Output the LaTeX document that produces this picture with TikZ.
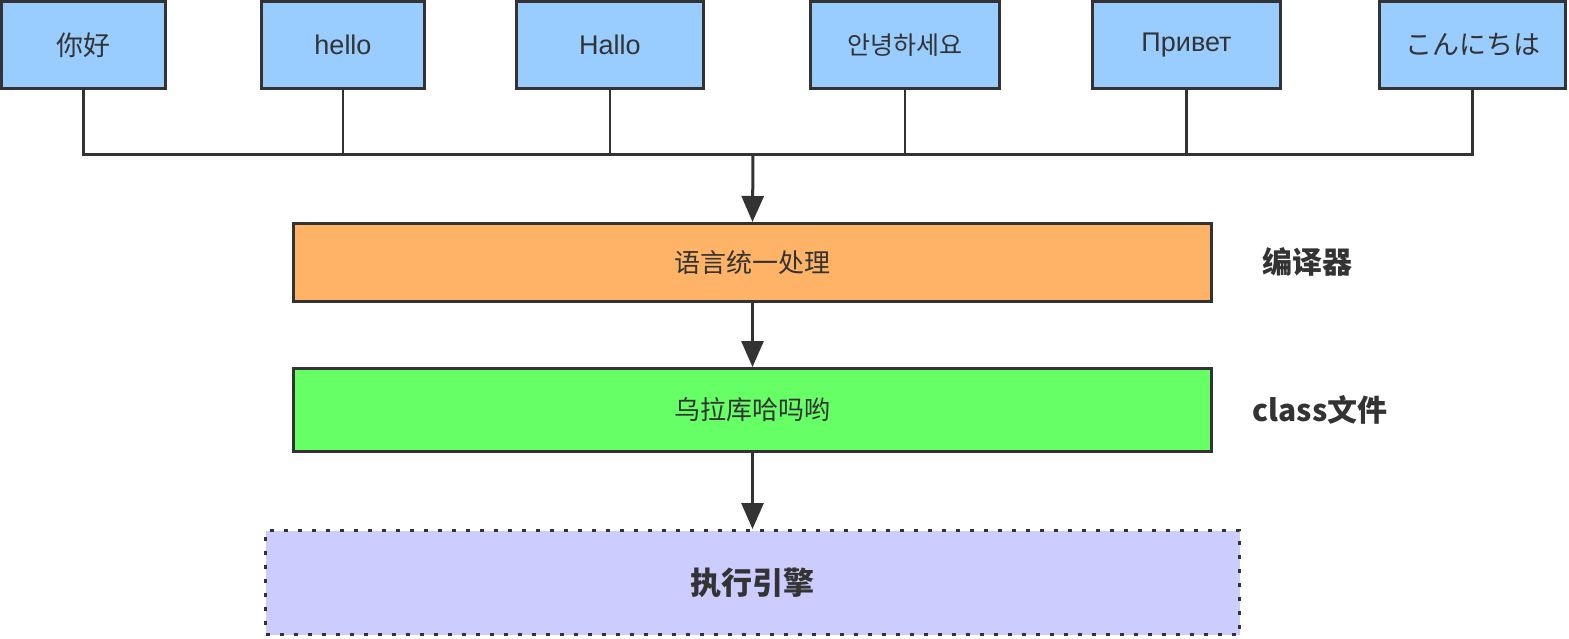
\documentclass[tikz,border=0pt]{standalone}
\usepackage{fontspec}
\setmainfont{Liberation Sans}
\newfontfamily\cjk{Noto Sans CJK SC}
\newfontfamily\kor{Noto Sans CJK KR}
\newfontfamily\jap{Noto Sans CJK JP}
\usetikzlibrary{arrows.meta}
\definecolor{txt}{HTML}{333333}
\definecolor{edge}{HTML}{333333}
\definecolor{blueF}{HTML}{99CCFF}
\definecolor{orangeF}{HTML}{FFB366}
\definecolor{greenF}{HTML}{66FF66}
\definecolor{lavF}{HTML}{CCCCFF}
\tikzset{
  lang/.style={draw=edge, line width=3pt, fill=blueF, minimum height=87pt, inner sep=0pt, text=txt, font=\fontsize{27}{32}\selectfont},
  stage/.style={draw=edge, line width=3pt, minimum width=918pt, inner sep=0pt, text=txt, font=\cjk\fontsize{26}{30}\selectfont},
  side/.style={text=txt, inner sep=0pt, font=\cjk\bfseries\fontsize{30}{34}\selectfont},
  feed/.style={draw=edge, line width=2.2pt},
  flow/.style={draw=edge, line width=3pt, -{Triangle[width=22pt,length=26pt]}}
}
\begin{document}
\begin{tikzpicture}[x=1pt,y=-1pt]
\useasboundingbox (0,0) rectangle (1569,639);
\node[lang, minimum width=164pt, font=\cjk\fontsize{27}{32}\selectfont] (b1) at (83.5,45) {你好};
\node[lang, minimum width=163pt] (b2) at (343,45) {hello};
\node[lang, minimum width=187pt] (b3) at (610,45) {Hallo};
\node[lang, minimum width=189pt, font=\kor\fontsize{25}{30}\selectfont] (b4) at (905,45) {안녕하세요};
\node[lang, minimum width=188pt] (b5) at (1186.5,45) {Привет};
\node[lang, minimum width=186pt, font=\jap\fontsize{27}{32}\selectfont] (b6) at (1472.5,45) {こんにちは};
\coordinate (bus) at (753,155);
\foreach \b in {b1,b2,b3,b4,b5,b6} \draw[feed] (\b.south) |- (bus);
\draw[edge, line width=3pt] (83,155) -- (1473,155);
\node[stage, fill=orangeF, minimum height=78pt] (s1) at (752.5,262.5) {语言统一处理};
\node[stage, fill=greenF, minimum height=83pt] (s2) at (752.5,410) {乌拉库哈吗哟};
\node[draw=edge, line width=3pt, dash pattern=on 4pt off 10pt, fill=lavF, minimum width=974pt, minimum height=104pt, inner sep=0pt, text=txt, font=\cjk\bfseries\fontsize{31}{36}\selectfont] (s3) at (752.5,582.5) {执行引擎};
\draw[flow] (bus) -- (s1.north);
\draw[flow] (s1.south) -- (s2.north);
\draw[flow] (s2.south) -- (s3.north);
\node[side] (l1) at (1307,262) {编译器};
\node[side] (l2) at (1320,410) {class文件};
\end{tikzpicture}
\end{document}
